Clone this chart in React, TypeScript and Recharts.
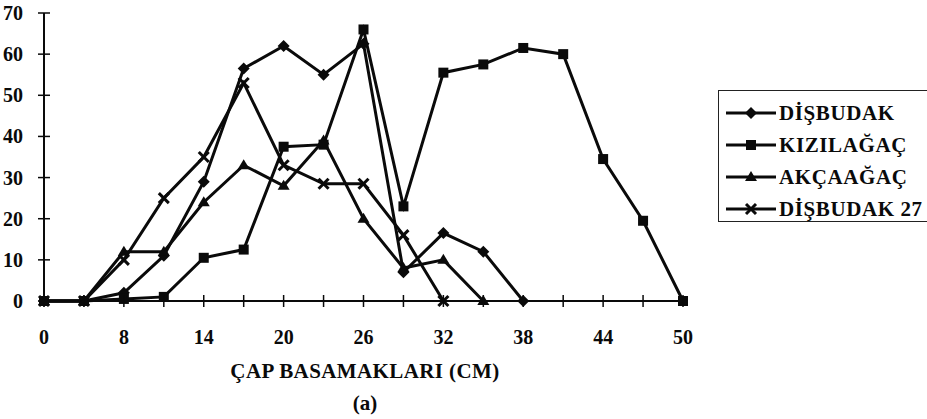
import React from 'react';
import { LineChart, Line, XAxis, YAxis } from 'recharts';

const CATEGORIES = ['0', '5', '8', '11', '14', '17', '20', '23', '26', '29', '32', '35', '38', '41', '44', '47', '50'];
const Y_TICKS = [0, 10, 20, 30, 40, 50, 60, 70];

const DISBUDAK = [0, 0, 2, 11, 29, 56.5, 62, 55, 62.5, 7, 16.5, 12, 0, null, null, null, null];
const KIZILAGAC = [0, 0, 0.5, 1, 10.5, 12.5, 37.5, 38, 66, 23, 55.5, 57.5, 61.5, 60, 34.5, 19.5, 0];
const AKCAAGAC = [0, 0, 12, 12, 24, 33, 28, 39, 20, 8, 10, 0, null, null, null, null, null];
const DISBUDAK_27 = [0, 0, 10, 25, 35, 53, 33, 28.5, 28.5, 16, 0, null, null, null, null, null, null];

const SERIES_NAMES = ['DİŞBUDAK', 'KIZILAĞAÇ', 'AKÇAAĞAÇ', 'DİŞBUDAK 27'];
const X_TITLE = 'ÇAP BASAMAKLARI (CM)';
const SUBTITLE = '(a)';

const data = CATEGORIES.map((c, i) => ({
  cap: c,
  d: DISBUDAK[i],
  k: KIZILAGAC[i],
  a: AKCAAGAC[i],
  d27: DISBUDAK_27[i],
}));

const FONT = '"Liberation Serif", "Times New Roman", serif';
const INK = '#0a0a0a';

type Shape = 'diamond' | 'square' | 'triangle' | 'cross';

const Marker = ({ shape, cx, cy, s = 5 }: { shape: Shape; cx: number; cy: number; s?: number }) => {
  if (shape === 'diamond')
    return <polygon points={`${cx},${cy - s - 1} ${cx + s + 1},${cy} ${cx},${cy + s + 1} ${cx - s - 1},${cy}`} fill={INK} />;
  if (shape === 'square')
    return <rect x={cx - s} y={cy - s} width={s * 2} height={s * 2} fill={INK} />;
  if (shape === 'triangle')
    return <polygon points={`${cx},${cy - s - 1} ${cx + s + 1},${cy + s - 1} ${cx - s - 1},${cy + s - 1}`} fill={INK} />;
  return (
    <g stroke={INK} strokeWidth={3}>
      <line x1={cx - s} y1={cy - s} x2={cx + s} y2={cy + s} />
      <line x1={cx - s} y1={cy + s} x2={cx + s} y2={cy - s} />
    </g>
  );
};

const dotFor = (shape: Shape) => (p: any) => {
  if (p.cx == null || p.cy == null || p.value == null) return <g key={`${shape}-${p.index}`} />;
  return <Marker key={`${shape}-${p.index}`} shape={shape} cx={p.cx} cy={p.cy} />;
};

const XTick = (p: any) => (
  <g>
    <line x1={p.x} y1={p.y - 6} x2={p.x} y2={p.y + 6} stroke={INK} strokeWidth={1.5} />
    {p.index % 2 === 0 && (
      <text x={p.x} y={p.y + 43} textAnchor="middle" fontSize={20} fontWeight="bold" fontFamily={FONT} fill={INK}>
        {p.payload.value}
      </text>
    )}
  </g>
);

const YTick = (p: any) => (
  <g>
    <line x1={p.x - 6} y1={p.y} x2={p.x + 6} y2={p.y} stroke={INK} strokeWidth={1.5} />
    <text x={p.x - 21} y={p.y} dy="0.35em" textAnchor="end" fontSize={20} fontWeight="bold" fontFamily={FONT} fill={INK}>
      {p.payload.value}
    </text>
  </g>
);

const SHAPES: Shape[] = ['diamond', 'square', 'triangle', 'cross'];
const KEYS = ['d', 'k', 'a', 'd27'];

export default function App() {
  return (
    <div style={{ position: 'relative', width: 927, height: 419, background: '#fff', fontFamily: FONT, overflow: 'hidden' }}>
      <style>{'body{margin:0;}'}</style>
      <LineChart width={927} height={419} data={data} margin={{ top: 13, right: 244, left: 0, bottom: 88 }}>
        <XAxis
          dataKey="cap"
          interval={0}
          tick={<XTick />}
          tickSize={0}
          tickMargin={0}
          tickLine={false}
          height={30}
          padding={{ left: 0, right: 0 }}
          axisLine={{ stroke: INK, strokeWidth: 2 }}
        />
        <YAxis
          domain={[0, 70]}
          ticks={Y_TICKS}
          interval={0}
          tick={<YTick />}
          tickSize={0}
          tickMargin={0}
          tickLine={false}
          width={44}
          axisLine={{ stroke: INK, strokeWidth: 2 }}
        />
        {KEYS.map((k, i) => (
          <Line
            key={k}
            dataKey={k}
            name={SERIES_NAMES[i]}
            stroke={INK}
            strokeWidth={3}
            type="linear"
            dot={dotFor(SHAPES[i])}
            isAnimationActive={false}
          />
        ))}
      </LineChart>
      <div
        style={{
          position: 'absolute',
          left: 718,
          top: 90,
          width: 220,
          height: 132,
          border: '1.5px solid #222',
          boxSizing: 'border-box',
        }}
      >
        {SERIES_NAMES.map((n, i) => (
          <div key={n} style={{ position: 'absolute', left: 6, top: 9 + i * 32, height: 26, display: 'flex', alignItems: 'center' }}>
            <svg width={52} height={20}>
              <line x1={1} y1={10} x2={51} y2={10} stroke={INK} strokeWidth={3} />
              <Marker shape={SHAPES[i]} cx={26} cy={10} />
            </svg>
            <span style={{ marginLeft: 2, fontSize: 21, fontWeight: 'bold', letterSpacing: 0.6, color: INK, whiteSpace: 'nowrap' }}>{n}</span>
          </div>
        ))}
      </div>
      <div style={{ position: 'absolute', left: 0, width: 730, top: 359, textAlign: 'center', fontSize: 21, fontWeight: 'bold', letterSpacing: 0.4, color: INK }}>
        {X_TITLE}
      </div>
      <div style={{ position: 'absolute', left: 0, width: 730, top: 391, textAlign: 'center', fontSize: 21, fontWeight: 'bold', color: INK }}>
        {SUBTITLE}
      </div>
    </div>
  );
}
